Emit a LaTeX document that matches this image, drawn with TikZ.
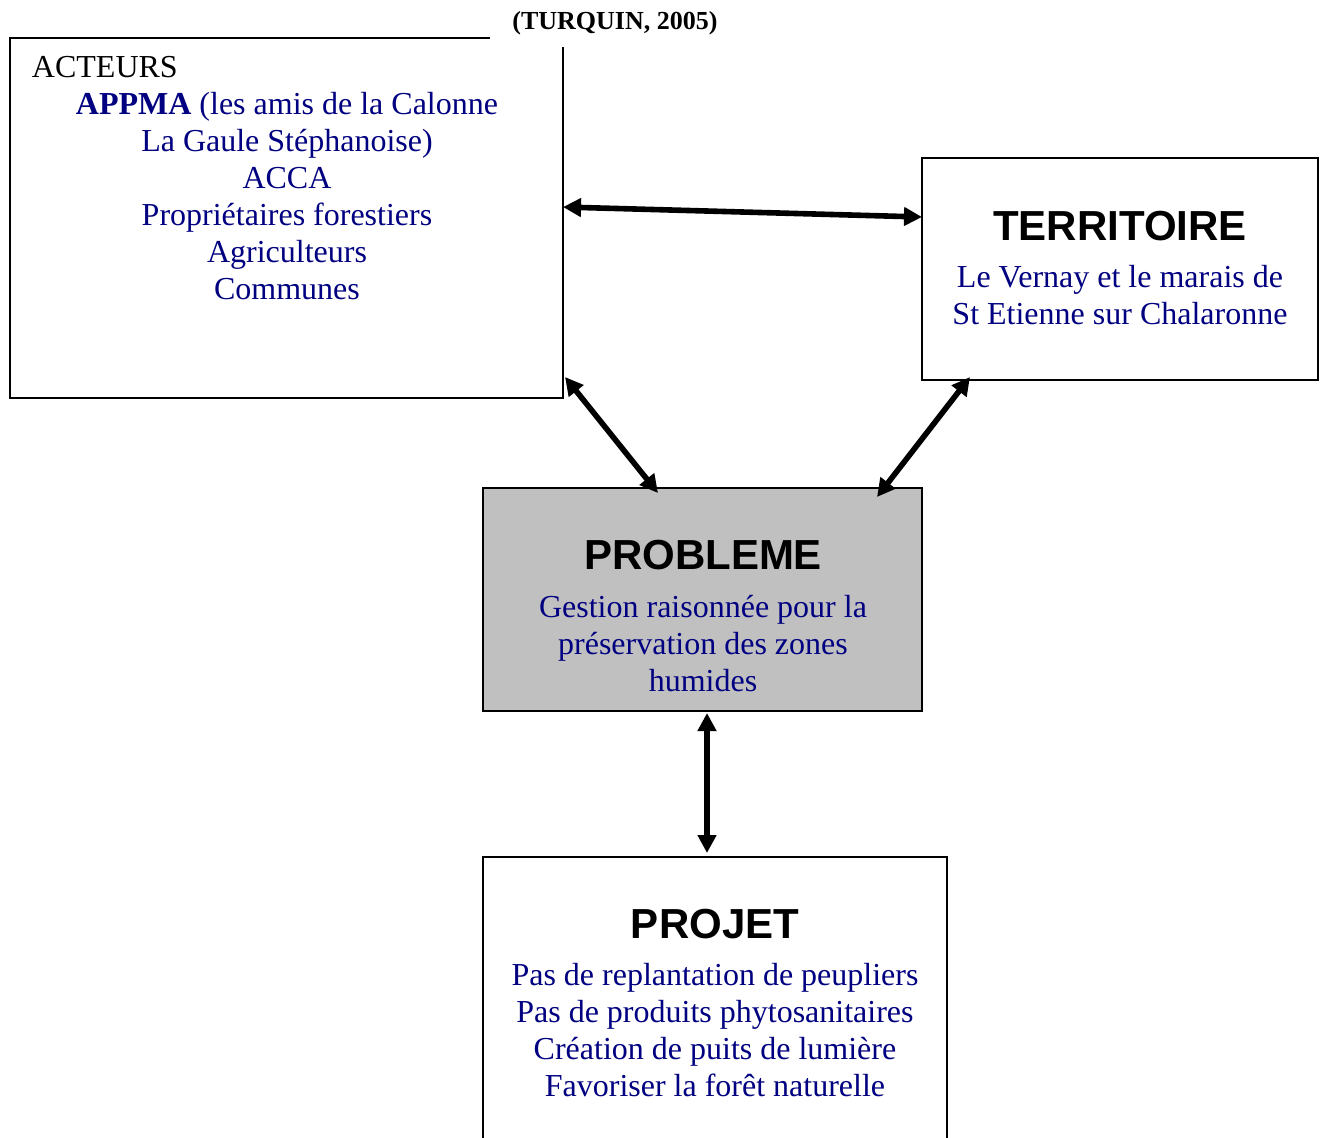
\documentclass[tikz,border=0pt]{standalone}
\usepackage{fontspec}
\setmainfont{Liberation Serif}
\setsansfont{Liberation Sans}
\usetikzlibrary{arrows.meta}
\definecolor{navytext}{RGB}{0,0,128}
\definecolor{boxgray}{RGB}{192,192,192}

\begin{document}
\begin{tikzpicture}[x=0.5pt,y=-0.5pt,
  every node/.style={inner sep=0pt,outer sep=0pt},
  frame/.style={line width=1pt},
  box/.style={draw,line width=1pt},
  titletext/.style={font=\sffamily\bfseries\fontsize{21}{24}\selectfont},
  bodytext/.style={align=center,text=navytext,font=\fontsize{16}{18.5}\selectfont},
  dbl/.style={{Triangle[length=9pt,width=9pt]}-{Triangle[length=9pt,width=9pt]},line width=2.8pt}]
  \useasboundingbox (0,0) rectangle (1322,1137);
  % boxes
  \node (acteurs) at (286.5,218) [minimum width=276.5pt,minimum height=180pt] {};
  \draw[frame] ([xshift=240pt]acteurs.north west) -- (acteurs.north west) -- (acteurs.south west)
    -- (acteurs.south east) -- ([yshift=-4.5pt]acteurs.north east);
  \node[box,minimum width=198pt,minimum height=111pt] (territoire) at (1120,269) {};
  \node[box,fill=boxgray,minimum width=219.5pt,minimum height=111.5pt] (probleme) at (702.5,599.5) {};
  \node[box,minimum width=232pt,minimum height=150pt] (projet) at (715,1007) {};
  % texts
  \node[font=\bfseries\fontsize{13}{15}\selectfont] (source) at (615,23) {(TURQUIN, 2005)};
  \node[anchor=west,font=\fontsize{16}{18.5}\selectfont] (acttitle) at (32,67) {ACTEURS};
  \node[bodytext] (actlist) at (287,196.5) {\textbf{APPMA} (les amis de la Calonne\\La Gaule Stéphanoise)\\ACCA\\Propriétaires forestiers\\Agriculteurs\\Communes};
  \node[titletext] (territtitle) at (1120,226) {TERRITOIRE};
  \node[bodytext] (territtext) at (1120,295.5) {Le Vernay et le marais de\\St Etienne sur Chalaronne};
  \node[titletext] (probtitle) at (703,555) {PROBLEME};
  \node[bodytext] (probtext) at (703,644) {Gestion raisonnée pour la\\préservation des zones\\humides};
  \node[titletext] (projtitle) at (715,924) {PROJET};
  \node[bodytext] (projtext) at (715,1030.5) {Pas de replantation de peupliers\\Pas de produits phytosanitaires\\Création de puits de lumière\\Favoriser la forêt naturelle};
  % arrows
  \draw[dbl] ([yshift=-84.5pt]acteurs.north east) -- ([yshift=-29.5pt]territoire.north west);
  \draw[dbl] ([xshift=1pt,yshift=10.5pt]acteurs.south east) -- ([xshift=87.5pt,yshift=-2.5pt]probleme.north west);
  \draw[dbl] ([xshift=24pt,yshift=1.5pt]territoire.south west) -- ([xshift=-22.5pt,yshift=-4.5pt]probleme.north east);
  \draw[dbl] ([xshift=2.25pt,yshift=-1pt]probleme.south) -- ([xshift=-4pt,yshift=2pt]projet.north);
\end{tikzpicture}
\end{document}
